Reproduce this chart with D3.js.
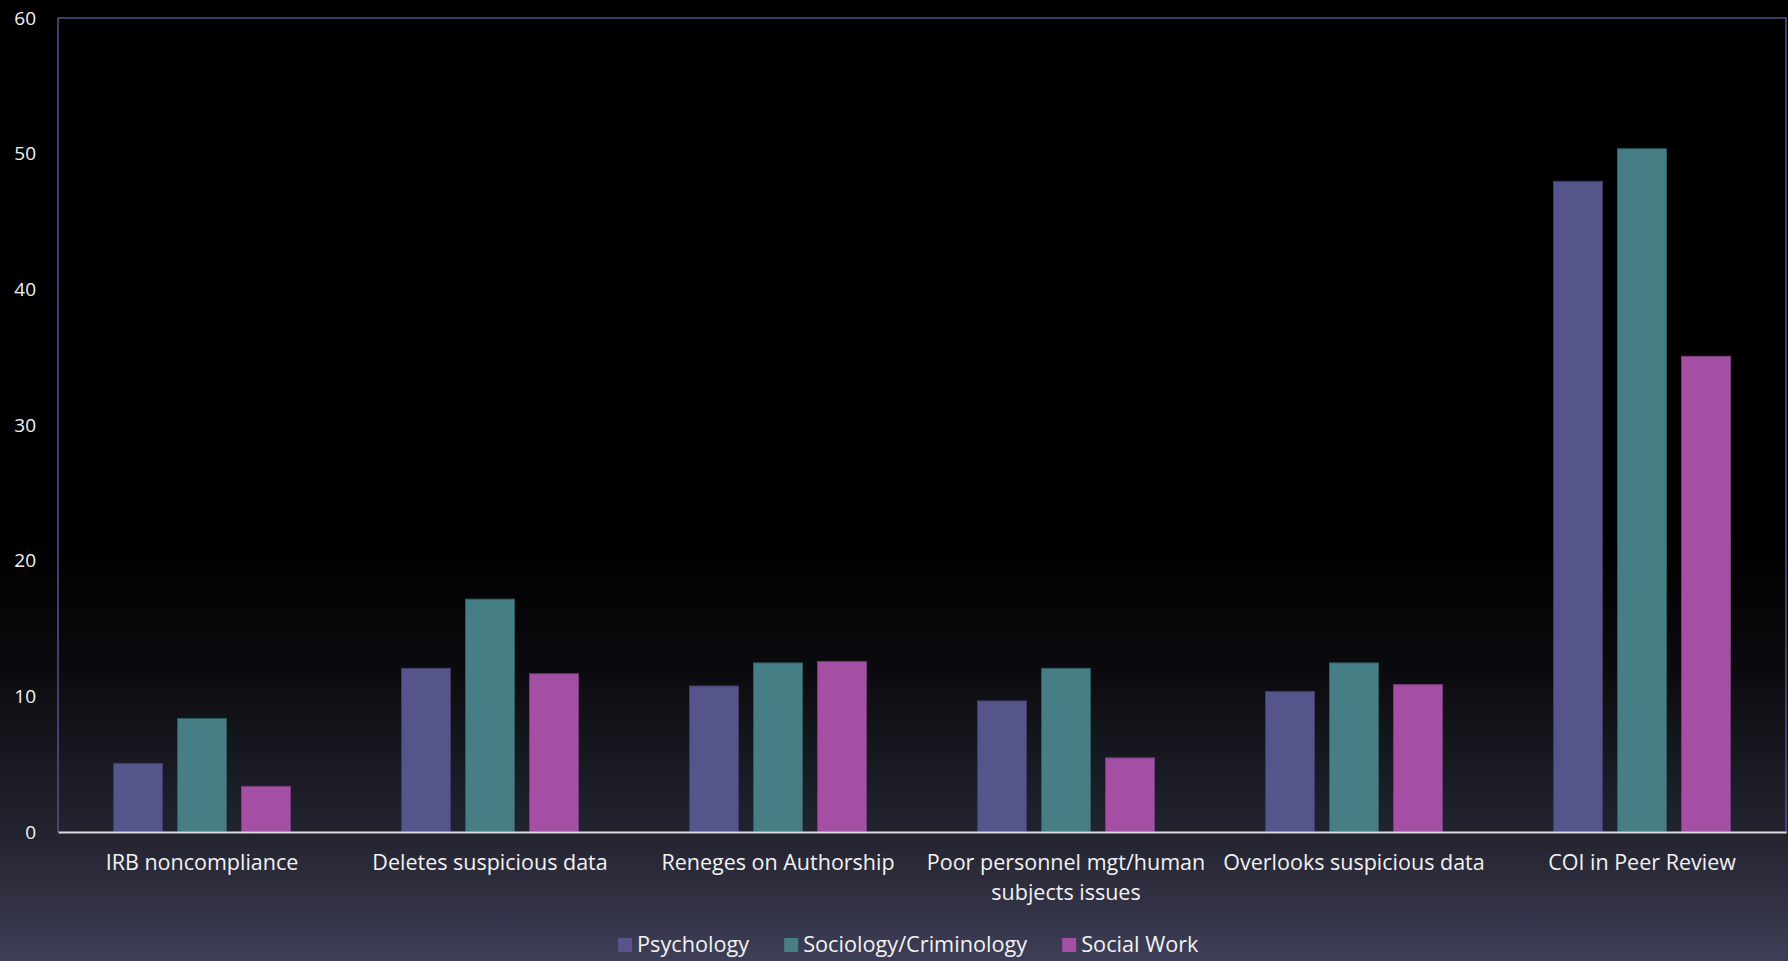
<!DOCTYPE html>
<html>
<head>
<meta charset="utf-8">
<script src="https://cdn.jsdelivr.net/npm/d3@7"></script>
<style>
  html, body { margin: 0; padding: 0; background: #000; }
  svg { display: block; }
  text { font-family: "Open Sans", "DejaVu Sans", sans-serif; fill: #f2f2f2; }
</style>
</head>
<body>
<svg id="chart" width="1788" height="961"></svg>
<script>
const categories = [
  ["IRB noncompliance"],
  ["Deletes suspicious data"],
  ["Reneges on Authorship"],
  ["Poor personnel mgt/human", "subjects issues"],
  ["Overlooks suspicious data"],
  ["COI in Peer Review"]
];
const seriesNames = ["Psychology", "Sociology/Criminology", "Social Work"];
const psychology = [5.1, 12.1, 10.8, 9.7, 10.4, 48.0];
const sociology  = [8.4, 17.2, 12.5, 12.1, 12.5, 50.4];
const socialWork = [3.4, 11.7, 12.6, 5.5, 10.9, 35.1];
const yTicks = [0, 10, 20, 30, 40, 50, 60];

(function () {
const fills   = ["#55548B", "#457F85", "#A24FA4"];
const strokes = ["#3d3c68", "#2f5c61", "#7a3a7c"];
const seriesValues = [psychology, sociology, socialWork];

const W = 1788, H = 961;
const svg = d3.select("#chart");

// background gradient
const defs = svg.append("defs");
const grad = defs.append("linearGradient").attr("id", "bg").attr("x1", 0).attr("y1", 0).attr("x2", 0).attr("y2", 1);
[[0, "#000000"], [0.56, "#000000"], [0.70, "#0b0b0f"], [0.81, "#1b1b25"], [0.866, "#23232f"], [0.92, "#2d2d3d"], [1, "#3e3f58"]]
  .forEach(([o, c]) => grad.append("stop").attr("offset", o).attr("stop-color", c));
svg.append("rect").attr("width", W).attr("height", H).attr("fill", "url(#bg)");

const pLeft = 58, pRight = 1786, pTop = 18, pBottom = 832;

const x0 = d3.scaleBand().domain(d3.range(categories.length)).range([pLeft, pRight]).padding(0);
const groupW = 178;
const x1 = d3.scaleBand().domain(d3.range(seriesNames.length)).range([0, groupW]).paddingInner(14 / 64).paddingOuter(0);
const y = d3.scaleLinear().domain([0, 60]).range([pBottom, pTop]);

// bars
seriesValues.forEach((vals, si) => {
  svg.append("g").selectAll("rect").data(vals).join("rect")
    .attr("x", (d, i) => x0(i) + (x0.bandwidth() - groupW) / 2 + x1(si) + 0.5)
    .attr("y", d => y(d) + 0.5)
    .attr("width", x1.bandwidth() - 1)
    .attr("height", d => y(0) - y(d) - 0.5)
    .attr("fill", fills[si])
    .attr("stroke", strokes[si])
    .attr("stroke-width", 1);
});

// plot frame (left, top, right)
svg.append("path")
  .attr("d", `M${pLeft},${pBottom} L${pLeft},${pTop} L${pRight},${pTop} L${pRight},${pBottom}`)
  .attr("fill", "none").attr("stroke", "#4f4e86").attr("stroke-width", 1.6);

// y axis labels
const yAxis = d3.axisLeft(y).tickValues(yTicks).tickSize(0).tickPadding(0).tickFormat(d3.format("d"));
const ya = svg.append("g").attr("transform", `translate(36,0)`).call(yAxis);
ya.select(".domain").remove();
ya.selectAll("text").attr("font-size", 19).attr("fill", "#f2f2f2").style("font-family", "'Open Sans', sans-serif");

// x axis line
const xAxis = d3.axisBottom(x0).tickSize(0).tickFormat("");
const xa = svg.append("g").attr("transform", `translate(0,${pBottom})`).call(xAxis);
xa.select(".domain").attr("stroke", "#d9d9d9").attr("stroke-width", 2);

// category labels
const lab = svg.append("g").selectAll("text").data(categories).join("text")
  .attr("x", (d, i) => x0(i) + x0.bandwidth() / 2)
  .attr("y", 870)
  .attr("text-anchor", "middle")
  .attr("font-size", 21.5);
lab.selectAll("tspan").data(d => d).join("tspan")
  .attr("x", function() { return d3.select(this.parentNode).attr("x"); })
  .attr("dy", (d, i) => i === 0 ? 0 : 30)
  .text(d => d);

// legend
const leg = svg.append("g");
let lx = 618;
seriesNames.forEach((name, i) => {
  leg.append("rect").attr("x", lx).attr("y", 938).attr("width", 14).attr("height", 14).attr("fill", fills[i]);
  const t = leg.append("text").attr("x", lx + 19).attr("y", 952).attr("font-size", 21.7).text(name);
  lx += 19 + t.node().getComputedTextLength() + 35;
});
})();
</script>
</body>
</html>
